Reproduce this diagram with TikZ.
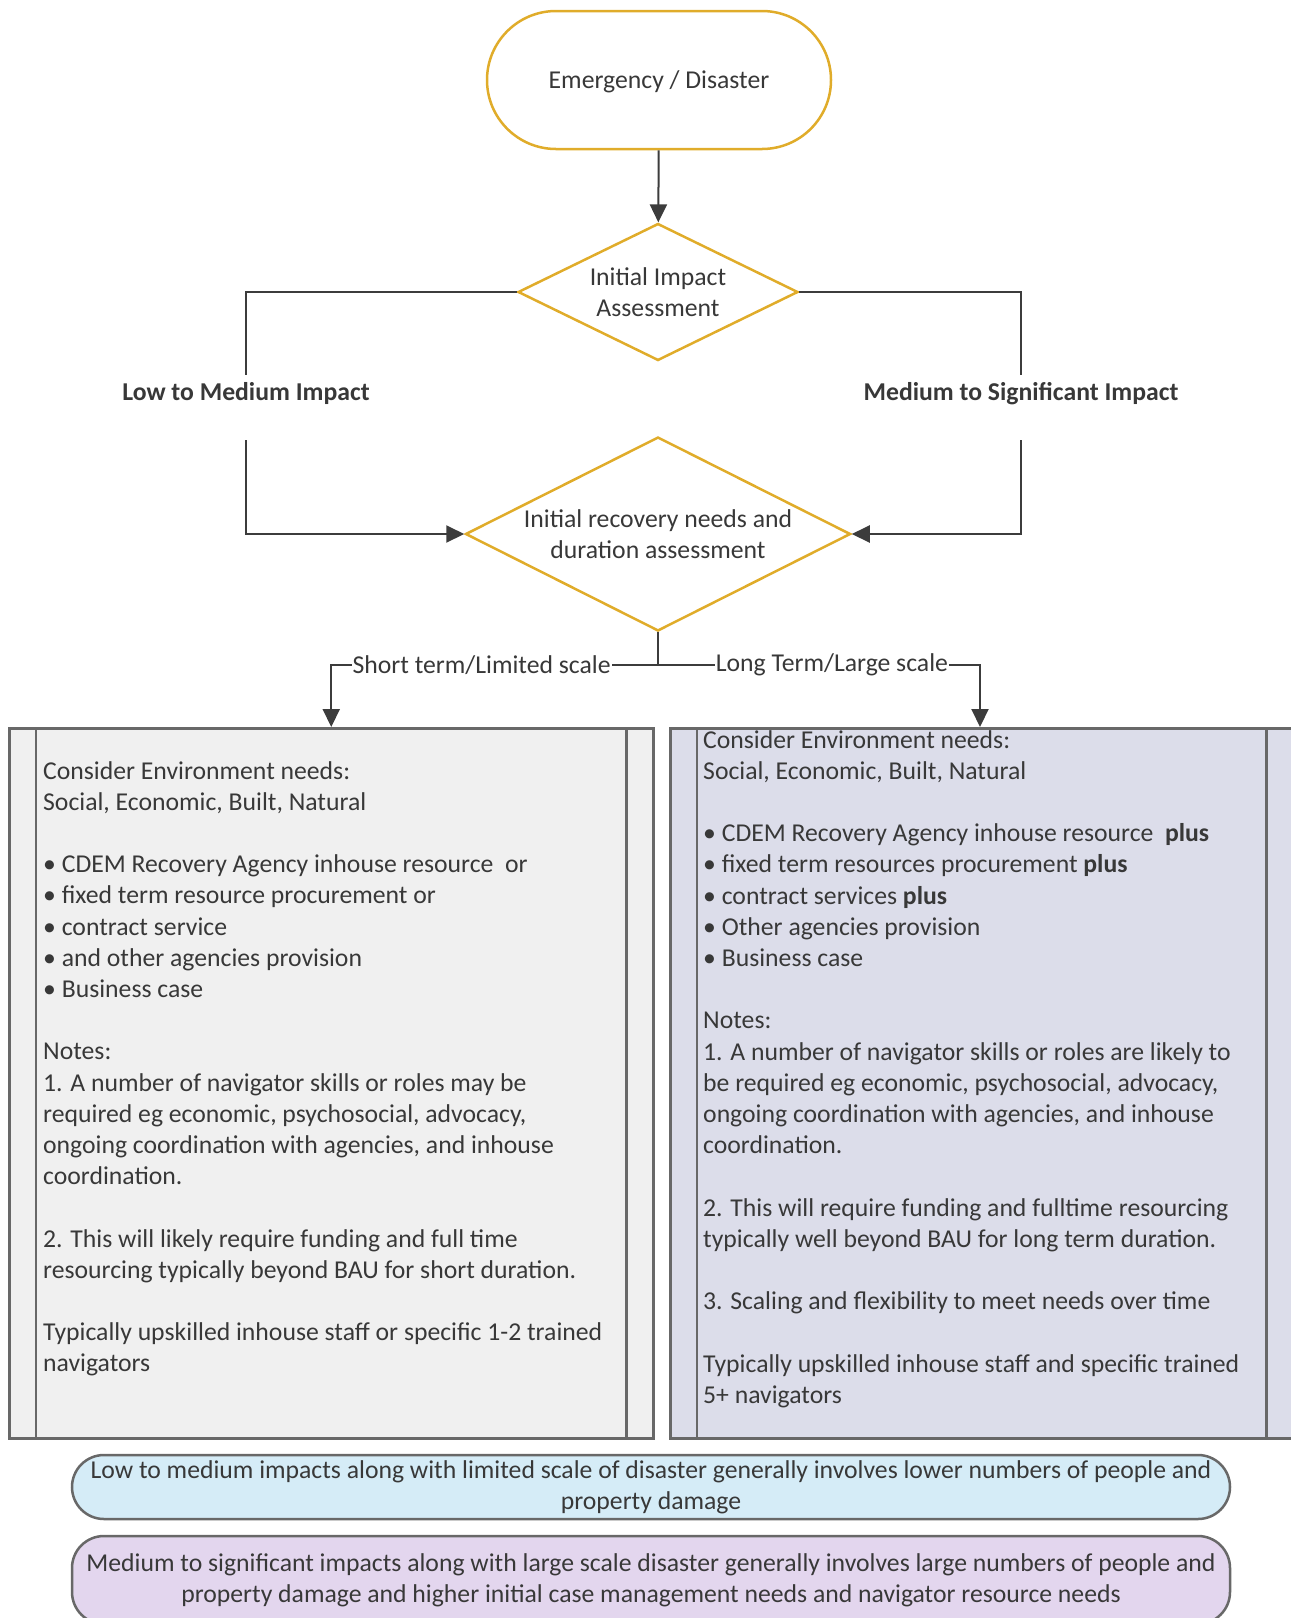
\documentclass[tikz,border=0pt]{standalone}
\usepackage{fontspec}
\setmainfont{Carlito}
\usetikzlibrary{arrows.meta, positioning, shapes.geometric}

\definecolor{flowgold}{HTML}{E0AC2A}
\definecolor{linegray}{HTML}{3C3C3C}
\definecolor{boxgray}{HTML}{686868}
\definecolor{shortfill}{HTML}{F0F0F0}
\definecolor{longfill}{HTML}{DCDDEA}
\definecolor{lowfill}{HTML}{D5ECF7}
\definecolor{highfill}{HTML}{E3D6EE}
\definecolor{inkgray}{HTML}{383838}

\begin{document}
\begin{tikzpicture}[x=1pt, y=-1pt,
    every node/.style={font=\fontsize{25.7}{31.2}\selectfont, text=inkgray},
    terminal/.style={rectangle, draw=flowgold, line width=2.5pt, rounded corners=69pt, minimum width=344pt, minimum height=138pt},
    decision/.style={diamond, draw=flowgold, line width=2.5pt, aspect=2, inner sep=0pt, align=center},
    branch/.style={font=\fontsize{25.7}{31.2}\selectfont\bfseries, anchor=base, inner ysep=0pt, text height=25pt, text depth=40pt},
    scalelbl/.style={fill=white, inner xsep=1pt, inner ysep=2pt},
    panel/.style={rectangle, draw=boxgray, line width=2.5pt, anchor=north west},
    panelline/.style={draw=boxgray, line width=2.5pt},
    notes/.style={anchor=north west, inner sep=0pt, align=left},
    summary/.style={rectangle, draw=boxgray, line width=2.5pt, rounded corners=32pt, minimum width=1158pt, align=center, inner sep=0pt},
    line/.style={draw=linegray, line width=2pt},
    arrow/.style={line, -{Triangle[width=17pt, length=18pt]}}
]
\useasboundingbox (0,0) rectangle (1291,1618);

% Nodes
\node[terminal, text depth=0pt] (event) at (659,80) {Emergency / Disaster};
\node[decision, minimum width=280pt, minimum height=137pt] (impact) at (658,292) {Initial Impact\\Assessment};
\node[decision, minimum width=385pt, minimum height=194pt] (recovery) at (658,534) {Initial recovery needs and\\duration assessment};

\node[branch] (lowlbl) at (246,400) {Low to Medium Impact};
\node[branch] (medlbl) at (1021,400) {Medium to Significant Impact};

\node[panel, fill=shortfill, minimum width=644pt, minimum height=710pt] (shortbox) at (8,727) {};
\node[panel, fill=longfill, minimum width=624pt, minimum height=710pt] (longbox) at (669,727) {};

\node[notes] (shortnotes) at (43,761) {Consider Environment needs:\\
Social, Economic, Built, Natural\\[31.2pt]
• CDEM Recovery Agency inhouse resource\ \ or\\
• fixed term resource procurement or\\
• contract service\\
• and other agencies provision\\
• Business case\\[31.2pt]
Notes:\\
1. A number of navigator skills or roles may be\\
required eg economic, psychosocial, advocacy,\\
ongoing coordination with agencies, and inhouse\\
coordination.\\[31.2pt]
2. This will likely require funding and full time\\
resourcing typically beyond BAU for short duration.\\[31.2pt]
Typically upskilled inhouse staff or specific 1-2 trained\\
navigators};

\node[notes] (longnotes) at (703,730) {Consider Environment needs:\\
Social, Economic, Built, Natural\\[31.2pt]
• CDEM Recovery Agency inhouse resource\ \ \textbf{plus}\\
• fixed term resources procurement \textbf{plus}\\
• contract services \textbf{plus}\\
• Other agencies provision\\
• Business case\\[31.2pt]
Notes:\\
1. A number of navigator skills or roles are likely to\\
be required eg economic, psychosocial, advocacy,\\
ongoing coordination with agencies, and inhouse\\
coordination.\\[31.2pt]
2. This will require funding and fulltime resourcing\\
typically well beyond BAU for long term duration.\\[31.2pt]
3. Scaling and flexibility to meet needs over time\\[31.2pt]
Typically upskilled inhouse staff and specific trained\\
5+ navigators};

\node[summary, fill=lowfill, minimum height=64pt] (lowsum) at (651,1487) {Low to medium impacts along with limited scale of disaster generally involves lower numbers of people and\\property damage};
\node[summary, fill=highfill, minimum height=88pt] (highsum) at (651,1580) {Medium to significant impacts along with large scale disaster generally involves large numbers of people and\\property damage and higher initial case management needs and navigator resource needs};

% Panel dividers
\draw[panelline] ([xshift=28pt]shortbox.north west) -- ([xshift=28pt]shortbox.south west);
\draw[panelline] ([xshift=-28pt]shortbox.north east) -- ([xshift=-28pt]shortbox.south east);
\draw[panelline] ([xshift=28pt]longbox.north west) -- ([xshift=28pt]longbox.south west);
\draw[panelline] ([xshift=-29pt]longbox.north east) -- ([xshift=-29pt]longbox.south east);

% Paths
\draw[arrow] (event) -- (impact);
\draw[line] (impact.west) -| (lowlbl.north);
\draw[arrow] (lowlbl.south) |- (recovery.west);
\draw[line] (impact.east) -| (medlbl.north);
\draw[arrow] (medlbl.south) |- (recovery.east);

\coordinate (split) at (658,665);
\draw[line] (recovery.south) -- (split);
\draw[arrow] (split) -| (shortbox.north) node[scalelbl, pos=0.27] {Short term/Limited scale};
\draw[arrow] (split) -| (longbox.north -| 980,0) node[scalelbl, pos=0.27] {Long Term/Large scale};

\end{tikzpicture}
\end{document}
